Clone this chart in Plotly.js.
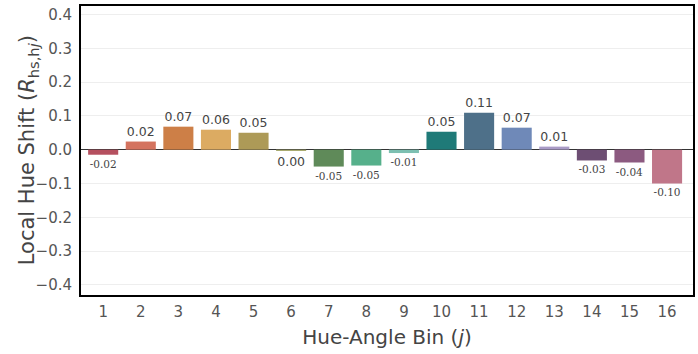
<!DOCTYPE html>
<html>
<head>
<meta charset="utf-8">
<script src="https://cdn.plot.ly/plotly-3.0.1.min.js"></script>
<style>html,body{margin:0;padding:0;background:#fff;}#chart{width:698px;height:354px;}</style>
</head>
<body>
<div id="chart"></div>
<script>
const bins = [1,2,3,4,5,6,7,8,9,10,11,12,13,14,15,16];
const shiftValues = [-0.015,0.024,0.068,0.059,0.050,-0.004,-0.050,-0.047,-0.010,0.053,0.109,0.065,0.009,-0.032,-0.038,-0.100];
const valueLabels = ["-0.02","0.02","0.07","0.06","0.05","0.00","-0.05","-0.05","-0.01","0.05","0.11","0.07","0.01","-0.03","-0.04","-0.10"];
const barColors = ["#b5505f","#d4735f","#cd7f47","#dcab62","#ad9a57","#a9ab70","#5f8a59","#56b08b","#7dbfb1","#1f7a78","#4e7089","#6f89b8","#a99bc6","#6d4e73","#8c5a80","#c07689"];
const yTitle = 'Local Hue Shift (<i>R</i><sub>hs,h<i>j</i></sub>)';
const xTitle = 'Hue-Angle Bin (<i>j</i>)';

const labelSizes = shiftValues.map((v,i)=> (v >= 0 || valueLabels[i] === "0.00") ? 12.5 : 10.5);
const labelFamilies = shiftValues.map((v,i)=> (v >= 0 || valueLabels[i] === "0.00") ? "DejaVu Sans" : "DejaVu Serif");

const trace = {
  type: 'bar',
  x: bins,
  y: shiftValues,
  text: valueLabels,
  textposition: 'outside',
  cliponaxis: false,
  textfont: {size: labelSizes, family: labelFamilies, color: '#444'},
  marker: {color: barColors, line: {width: 0}},
  width: 0.8,
  hoverinfo: 'skip'
};

const layout = {
  width: 698, height: 354,
  margin: {l: 81, r: 5, t: 6, b: 59},
  paper_bgcolor: '#fff', plot_bgcolor: '#fff',
  font: {family: 'DejaVu Sans', color: '#444'},
  showlegend: false,
  bargap: 0.2,
  xaxis: {
    range: [0.41, 16.69],
    tickmode: 'array', tickvals: bins, ticktext: bins.map(String),
    tickfont: {size: 15, color: '#555'},
    showgrid: false, zeroline: false,
    showline: true, linecolor: '#000', linewidth: 2, mirror: true,
    ticks: '', ticklen: 0, ticklabelstandoff: 2,
    title: {text: xTitle, font: {size: 20, color: '#444'}, standoff: 10}
  },
  yaxis: {
    range: [-0.43, 0.425],
    tickmode: 'linear', tick0: 0, dtick: 0.1, tickformat: '.1f',
    tickfont: {size: 15, color: '#555'},
    showgrid: true, gridcolor: '#eeeeee', gridwidth: 1,
    zeroline: true, zerolinecolor: '#333', zerolinewidth: 1,
    showline: true, linecolor: '#000', linewidth: 2, mirror: true,
    ticks: '', ticklabelstandoff: 4
  },
  annotations: [{
    text: yTitle, xref: 'paper', yref: 'paper',
    x: -0.087, y: 0.5, xanchor: 'center', yanchor: 'middle',
    textangle: -90, showarrow: false,
    font: {size: 21, color: '#444', family: 'DejaVu Sans'}
  }]
};

Plotly.newPlot('chart', [trace], layout, {staticPlot: true, displayModeBar: false});
</script>
</body>
</html>
